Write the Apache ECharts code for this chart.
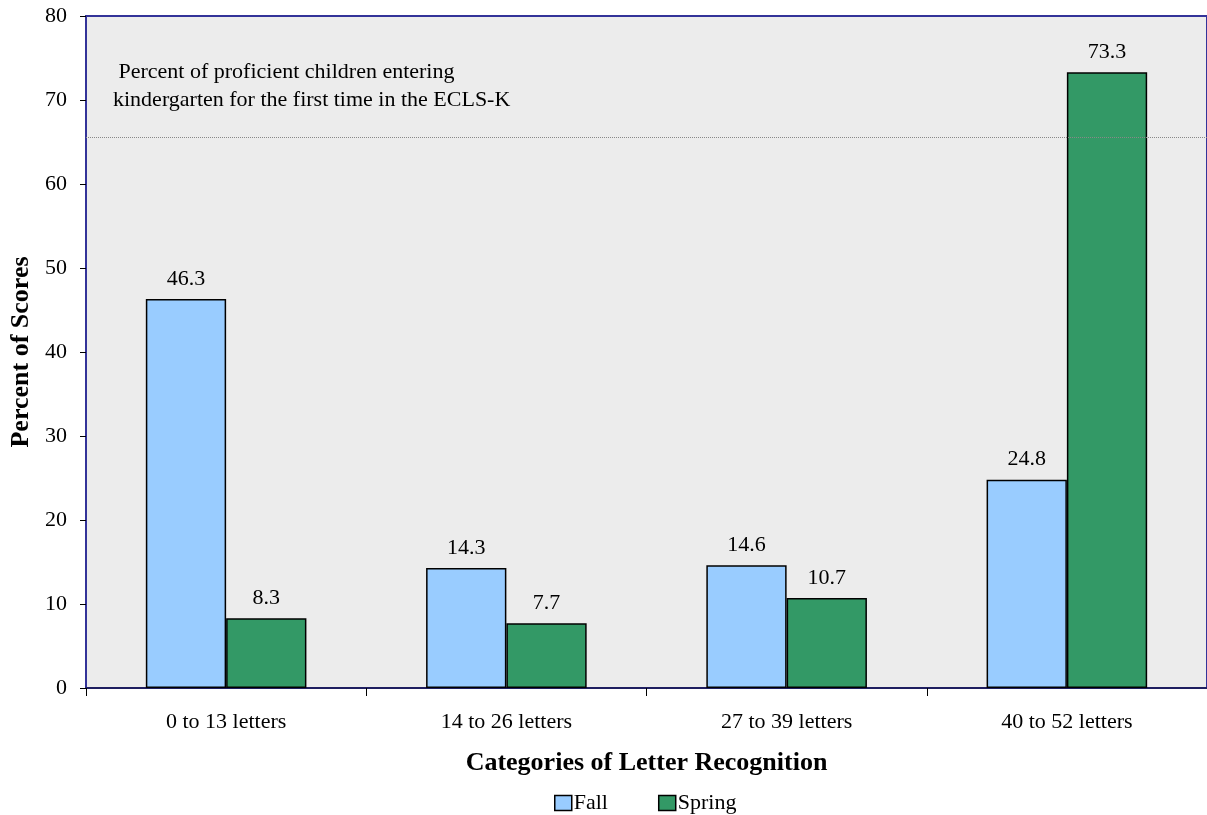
<!DOCTYPE html>
<html>
<head>
<meta charset="utf-8">
<script src="https://cdn.jsdelivr.net/npm/echarts@6/dist/echarts.min.js"></script>
<style>
html,body{margin:0;padding:0;background:#fff;}
#chart{width:1207px;height:815px;}
</style>
</head>
<body>
<div id="chart"></div>
<script>
const categories = ['0 to 13 letters', '14 to 26 letters', '27 to 39 letters', '40 to 52 letters'];
const fallValues = [46.3, 14.3, 14.6, 24.8];
const springValues = [8.3, 7.7, 10.7, 73.3];
const referenceValue = 65.6;
const referenceText = ' Percent of proficient children entering\nkindergarten for the first time in the ECLS-K';

const FONT = "'Liberation Serif', 'Times New Roman', serif";
const chart = echarts.init(document.getElementById('chart'));

const labelStyle = {show: true, position: 'top', distance: 9, color: '#000', fontFamily: FONT, fontSize: 22,
  formatter: p => p.value.toFixed(1)};

chart.setOption({
  animation: false,
  backgroundColor: '#ffffff',
  textStyle: {fontFamily: FONT},
  grid: {left: 83, right: -2, top: 16, bottom: 127, show: true, backgroundColor: '#ececec',
    borderColor: '#333399', borderWidth: 2},
  legend: {
    top: 787, left: 549, itemWidth: 17, itemHeight: 15, itemGap: 50,
    textStyle: {fontFamily: FONT, fontSize: 22, color: '#000', padding: [0, 0, 0, -3]},
    data: [
      {name: 'Fall', icon: 'rect', itemStyle: {color: '#99ccff', borderColor: '#000', borderWidth: 1.5}},
      {name: 'Spring', icon: 'rect', itemStyle: {color: '#339966', borderColor: '#000', borderWidth: 1.5}}
    ]
  },
  xAxis: {
    type: 'category', data: categories,
    name: 'Categories of Letter Recognition', nameLocation: 'middle', nameGap: 62,
    nameTextStyle: {fontFamily: FONT, fontSize: 26, fontWeight: 'bold', color: '#000'},
    axisLine: {show: true, lineStyle: {color: '#1a1a4d', width: 1.5}},
    axisTick: {show: true, length: 8, lineStyle: {color: '#000'}},
    axisLabel: {fontFamily: FONT, fontSize: 22, color: '#000', margin: 23}
  },
  yAxis: {
    type: 'value', min: 0, max: 80, interval: 10,
    name: 'Percent of Scores', nameLocation: 'middle', nameGap: 52, nameRotate: 90,
    nameTextStyle: {fontFamily: FONT, fontSize: 26, fontWeight: 'bold', color: '#000'},
    axisLine: {show: true, lineStyle: {color: '#333399', width: 2}},
    axisTick: {show: true, length: 6, lineStyle: {color: '#000'}},
    axisLabel: {fontFamily: FONT, fontSize: 22, color: '#000', margin: 19},
    splitLine: {show: false}
  },
  series: [
    {
      name: 'Fall', type: 'bar', data: fallValues, barGap: '0%', barCategoryGap: '42.7%',
      itemStyle: {color: '#99ccff', borderColor: '#000', borderWidth: 1.5},
      label: labelStyle,
      markLine: {
        silent: true, symbol: 'none', label: {show: false},
        lineStyle: {color: '#888', type: 'dotted', width: 1},
        data: [{yAxis: referenceValue}]
      }
    },
    {
      name: 'Spring', type: 'bar', data: springValues,
      itemStyle: {color: '#339966', borderColor: '#000', borderWidth: 1.5},
      label: labelStyle
    }
  ],
  graphic: [{
    type: 'text', x: 113, y: 58,
    style: {text: referenceText, fontFamily: FONT, fontSize: 22, fill: '#000', align: 'left', lineHeight: 28}
  }]
});
</script>
</body>
</html>
